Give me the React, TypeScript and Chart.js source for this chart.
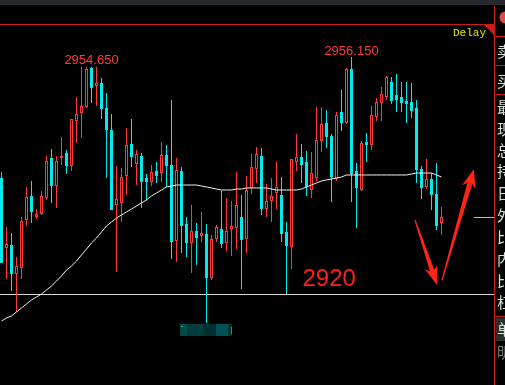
import React, { useEffect, useRef } from 'react';
import { Chart, registerables } from 'chart.js';

Chart.register(...registerables);

// ---- data ----
const opens = [
  2937.69, 2927.02, 2927.47, 2923.05, 2923.97, 2931.29, 2934.95, 2931.74, 2932.20, 2934.64,
  2940.74, 2936.47, 2940.74, 2941.50, 2939.52, 2946.38, 2947.60, 2948.52, 2954.47, 2951.72,
  2952.18, 2948.37, 2945.01, 2933.57, 2933.88, 2937.99, 2942.87, 2939.83, 2941.05, 2937.69,
  2937.08, 2938.76, 2938.45, 2941.20, 2939.67, 2928.08, 2938.76, 2930.68, 2927.78, 2929.61,
  2928.85, 2929.15, 2922.44, 2928.39, 2929.91, 2927.78, 2929.91, 2930.07, 2931.74, 2928.39,
  2936.17, 2939.06, 2941.05, 2932.96, 2934.18, 2935.40, 2935.10, 2929.46, 2927.17, 2940.13,
  2940.89, 2940.13, 2935.86, 2937.69, 2943.33, 2946.08, 2944.10, 2937.54, 2947.76, 2946.08,
  2954.31, 2938.76, 2935.86, 2943.18, 2942.72, 2946.99, 2949.13, 2950.04, 2952.33, 2950.35,
  2950.04, 2949.43, 2949.28, 2948.37, 2939.06, 2936.32, 2937.54, 2935.25, 2930.83,
];
const highs = [
  2938.61, 2930.22, 2929.30, 2925.64, 2931.74, 2936.32, 2937.23, 2932.96, 2935.71, 2941.05,
  2942.11, 2941.05, 2943.94, 2941.96, 2946.69, 2950.04, 2954.65, 2954.65, 2954.65, 2954.65,
  2952.94, 2950.65, 2947.45, 2939.52, 2939.22, 2945.32, 2946.69, 2941.96, 2941.50, 2938.30,
  2939.67, 2940.13, 2943.18, 2942.72, 2949.59, 2940.74, 2939.37, 2931.74, 2933.57, 2930.83,
  2932.51, 2930.68, 2929.00, 2930.52, 2935.71, 2934.64, 2934.18, 2938.61, 2935.10, 2937.99,
  2941.35, 2942.42, 2942.27, 2936.78, 2937.69, 2940.13, 2937.84, 2930.98, 2940.59, 2944.40,
  2942.87, 2941.81, 2941.66, 2948.52, 2948.52, 2948.06, 2944.40, 2947.76, 2951.11, 2954.47,
  2956.15, 2939.98, 2943.33, 2944.55, 2948.67, 2949.89, 2951.57, 2953.25, 2953.09, 2953.55,
  2952.33, 2952.33, 2952.18, 2949.59, 2939.52, 2940.59, 2938.45, 2939.98, 2933.27,
];
const lows = [
  2924.73, 2922.29, 2920.46, 2917.26, 2922.29, 2930.37, 2930.83, 2931.44, 2932.05, 2934.34,
  2933.88, 2933.12, 2939.67, 2938.30, 2938.76, 2943.03, 2943.79, 2948.37, 2949.13, 2948.67,
  2946.69, 2937.69, 2932.81, 2923.36, 2930.98, 2935.10, 2939.37, 2936.62, 2933.12, 2934.34,
  2936.47, 2936.93, 2937.08, 2936.32, 2925.34, 2924.88, 2926.25, 2925.64, 2923.20, 2924.42,
  2927.93, 2915.58, 2922.14, 2927.93, 2927.02, 2926.56, 2925.80, 2926.86, 2920.76, 2926.25,
  2935.25, 2936.93, 2932.05, 2931.74, 2930.98, 2932.96, 2927.93, 2920.00, 2923.81, 2938.76,
  2936.93, 2934.95, 2934.64, 2937.23, 2941.66, 2942.27, 2934.03, 2937.23, 2944.86, 2945.93,
  2934.03, 2930.07, 2935.71, 2940.13, 2941.96, 2946.38, 2946.38, 2949.59, 2948.98, 2947.76,
  2947.76, 2946.08, 2946.84, 2936.93, 2934.49, 2936.01, 2932.81, 2929.76, 2929.00,
];
const closes = [
  2924.73, 2927.63, 2923.05, 2924.27, 2931.13, 2934.79, 2932.51, 2932.20, 2934.95, 2940.28,
  2936.47, 2940.28, 2941.05, 2939.52, 2946.69, 2947.45, 2948.67, 2954.31, 2951.42, 2952.18,
  2948.21, 2945.01, 2932.81, 2934.49, 2937.84, 2942.72, 2940.89, 2941.35, 2937.08, 2937.08,
  2938.61, 2937.99, 2941.20, 2939.52, 2927.93, 2938.91, 2930.37, 2927.78, 2929.61, 2928.54,
  2929.30, 2922.44, 2928.39, 2930.22, 2927.63, 2929.61, 2930.37, 2933.57, 2928.24, 2935.86,
  2939.37, 2941.35, 2932.96, 2934.18, 2934.95, 2936.32, 2929.15, 2927.32, 2940.59, 2940.89,
  2939.67, 2936.32, 2938.45, 2943.49, 2945.93, 2943.94, 2937.84, 2947.30, 2946.08, 2954.31,
  2938.30, 2936.17, 2943.03, 2942.72, 2947.30, 2949.28, 2950.50, 2953.09, 2949.43, 2949.59,
  2949.13, 2948.98, 2947.91, 2938.91, 2936.17, 2937.54, 2935.10, 2930.37, 2931.74,
];
const movingAverage = [
  2915.88, 2916.34, 2916.65, 2917.26, 2917.87, 2918.48, 2919.09, 2919.54, 2920.00, 2920.61,
  2921.22, 2921.98, 2922.75, 2923.66, 2924.27, 2925.03, 2925.95, 2926.86, 2927.78, 2928.54,
  2929.46, 2930.37, 2930.98, 2931.59, 2932.05, 2932.51, 2932.96, 2933.42, 2933.88, 2934.34,
  2934.95, 2935.40, 2935.86, 2936.32, 2936.47, 2936.62, 2936.62, 2936.62, 2936.62, 2936.62,
  2936.47, 2936.32, 2936.17, 2936.01, 2935.86, 2935.86, 2935.86, 2936.01, 2936.01, 2936.17,
  2936.17, 2936.17, 2936.17, 2936.17, 2936.01, 2935.86, 2935.86, 2935.86, 2935.86, 2935.86,
  2936.01, 2936.32, 2936.62, 2936.93, 2937.23, 2937.39, 2937.54, 2937.69, 2937.84, 2938.15,
  2938.15, 2938.15, 2938.15, 2938.15, 2938.15, 2938.15, 2938.15, 2938.15, 2938.15, 2938.15,
  2938.15, 2938.15, 2938.30, 2938.45, 2938.45, 2938.45, 2938.45, 2938.15, 2937.84,
];
const peakLabels = [
  { index: 18, value: 2954.65, text: '2954.650' },
  { index: 70, value: 2956.15, text: '2956.150' },
];
const supportLevel = 2920;
const supportText = '2920';
const panelLabels = ['卖', '买', '最', '现', '总', '持', '日', '外', '比', '内', '比', '杠', '单', '明'];
const delayText = 'Delay';

// ---- styles ----
const RED = '#ff3a3a';
const CYAN = '#00ecec';
const LINE_RED = '#c81c1c';

function drawArrow(ctx: CanvasRenderingContext2D, x0: number, y0: number, x1: number, y1: number,
  w0: number, w1: number, L: number, H: number) {
  const dx = x1 - x0, dy = y1 - y0;
  const len = Math.hypot(dx, dy);
  const ux = dx / len, uy = dy / len, nx = -uy, ny = ux;
  const bx = x1 - ux * L, by = y1 - uy * L;
  const bbx = x1 - ux * (L + 4), bby = y1 - uy * (L + 4);
  ctx.beginPath();
  ctx.moveTo(x0 + nx * w0 / 2, y0 + ny * w0 / 2);
  ctx.lineTo(bx + nx * w1 / 2, by + ny * w1 / 2);
  ctx.lineTo(bbx + nx * H, bby + ny * H);
  ctx.lineTo(x1, y1);
  ctx.lineTo(bbx - nx * H, bby - ny * H);
  ctx.lineTo(bx - nx * w1 / 2, by - ny * w1 / 2);
  ctx.lineTo(x0 - nx * w0 / 2, y0 - ny * w0 / 2);
  ctx.closePath();
  ctx.fill();
}

const decorPlugin = {
  id: 'decor',
  beforeDraw(chart: any) {
    const ctx = chart.ctx;
    ctx.save();
    ctx.fillStyle = '#000';
    ctx.fillRect(0, 0, chart.width, chart.height);
    ctx.restore();
  },
  beforeDatasetsDraw(chart: any) {
    const { ctx, scales } = chart;
    const yy = Math.round(scales.y.getPixelForValue(supportLevel));
    ctx.save();
    ctx.fillStyle = '#d6d6d6';
    ctx.fillRect(chart.chartArea.left, yy, chart.chartArea.right - chart.chartArea.left, 1);
    ctx.restore();
  },
  afterDraw(chart: any) {
    const { ctx, scales } = chart;
    const xs = scales.x, ys = scales.y;
    const right = chart.chartArea.right;
    ctx.save();

    // top bar
    ctx.fillStyle = '#25292d';
    ctx.fillRect(0, 0, chart.width, 5);
    // red frame lines
    ctx.fillStyle = LINE_RED;
    ctx.fillRect(0, 24, right, 1);
    ctx.fillRect(right, 6, 1, chart.height - 6);
    [36, 65, 94, 316].forEach((yy) => ctx.fillRect(right + 1, yy, chart.width - right, 1));
    // corner triangle
    ctx.beginPath();
    ctx.moveTo(right - 10, 25);
    ctx.lineTo(right, 25);
    ctx.lineTo(right, 35);
    ctx.closePath();
    ctx.fill();
    // red dot
    ctx.fillStyle = '#e04a4a';
    ctx.beginPath();
    ctx.arc(505.5, 17.5, 6, 0, Math.PI * 2);
    ctx.fill();
    // grey cell
    ctx.fillStyle = '#2c2f30';
    ctx.fillRect(right + 2, 318, chart.width - right - 2, 23);

    // panel labels
    const rowY = [51, 81, 107, 129, 150, 171, 193, 215, 237, 259, 281, 302, 329, 352];
    ctx.font = '15px "Noto Sans CJK SC"';
    ctx.textBaseline = 'middle';
    ctx.textAlign = 'left';
    panelLabels.forEach((t, i) => {
      ctx.fillStyle = i === panelLabels.length - 1 ? '#7a7a7a' : '#dedede';
      ctx.fillText(t, right + 3, rowY[i]);
    });

    // Delay
    ctx.fillStyle = '#e6e600';
    ctx.font = '11px "Liberation Mono"';
    ctx.textBaseline = 'alphabetic';
    ctx.fillText(delayText, 453, 36);

    // last price marker
    const lastY = Math.round(ys.getPixelForValue(closes[closes.length - 1]));
    ctx.fillStyle = '#d8d800';
    ctx.fillRect(474, lastY, right - 474, 1);

    // peak labels
    ctx.fillStyle = '#ff3c3c';
    ctx.font = '13px "Liberation Sans"';
    ctx.textAlign = 'center';
    peakLabels.forEach((p, k) => {
      ctx.fillText(p.text, xs.getPixelForValue(p.index), ys.getPixelForValue(p.value) - (k === 0 ? 3 : 2));
    });

    // support text
    ctx.fillStyle = '#ff1e1e';
    ctx.font = '24px "Liberation Sans"';
    ctx.textAlign = 'left';
    ctx.fillText(supportText, xs.getPixelForValue(60.2), ys.getPixelForValue(supportLevel) - 8);

    // blurred label below lowest low
    const li = lows.indexOf(Math.min(...lows));
    const cx = xs.getPixelForValue(li);
    const top = Math.round(ys.getPixelForValue(lows[li])) + 1;
    const segs: [number, number, string][] = [
      [-26.5, 7, '#004a4a'], [-19.5, 17, '#003c3c'], [-2.5, 12, '#002f2f'], [9.5, 12, '#005252'], [21.5, 4, '#003434'],
    ];
    segs.forEach(([o, w, c]) => { ctx.fillStyle = c; ctx.fillRect(cx + o, top, w, 12); });
    ctx.fillStyle = '#00c0c0';
    ctx.fillRect(cx - 25.5, top + 2, 2, 1);
    ctx.fillStyle = '#00a0a0';
    ctx.fillRect(cx + 24.5, top + 3, 1, 7);

    // arrows
    ctx.fillStyle = '#ff2414';
    drawArrow(ctx, xs.getPixelForValue(82.7), ys.getPixelForValue(2931.29),
      xs.getPixelForValue(87.1), ys.getPixelForValue(2921.37), 1.2, 4.5, 15, 6.5);
    drawArrow(ctx, xs.getPixelForValue(88.1), ys.getPixelForValue(2922.09),
      xs.getPixelForValue(94.5), ys.getPixelForValue(2939.06), 1.2, 5, 15, 7);

    ctx.restore();
  },
};

export default function App() {
  const ref = useRef<HTMLCanvasElement>(null);
  useEffect(() => {
    const n = closes.length;
    const idx = Array.from({ length: n }, (_, i) => i);
    const up = idx.filter((i) => closes[i] >= opens[i]);
    const down = idx.filter((i) => closes[i] < opens[i]);
    const chart = new Chart(ref.current as HTMLCanvasElement, {
      type: 'bar',
      data: {
        datasets: [
          {
            type: 'line',
            data: movingAverage.map((v, i) => ({ x: i, y: v })),
            borderColor: '#f4f4f4',
            borderWidth: 1,
            pointRadius: 0,
            tension: 0,
            order: 0,
          } as any,
          {
            data: up.map((i) => ({ x: i, y: [opens[i], closes[i]] })),
            backgroundColor: '#000',
            borderColor: RED,
            borderWidth: 1,
            borderSkipped: false,
            barThickness: 3,
            grouped: false,
            inflateAmount: 0,
            order: 1,
          },
          {
            data: down.map((i) => ({ x: i, y: [opens[i], closes[i]] })),
            backgroundColor: CYAN,
            borderWidth: 0,
            barThickness: 3,
            grouped: false,
            inflateAmount: 0,
            order: 1,
          },
          {
            data: up.map((i) => ({ x: i, y: [lows[i], highs[i]] })),
            backgroundColor: RED,
            borderWidth: 0,
            barThickness: 1,
            grouped: false,
            inflateAmount: 0,
            order: 2,
          },
          {
            data: down.map((i) => ({ x: i, y: [lows[i], highs[i]] })),
            backgroundColor: CYAN,
            borderWidth: 0,
            barThickness: 1,
            grouped: false,
            inflateAmount: 0,
            order: 2,
          },
        ] as any,
      },
      options: {
        animation: false,
        responsive: false,
        devicePixelRatio: 1,
        layout: { padding: { left: 0, right: 11, top: 0, bottom: 0 } },
        plugins: { legend: { display: false }, tooltip: { enabled: false } },
        scales: {
          x: { type: 'linear', min: -0.3, max: 98.5, display: false, offset: false, grid: { display: false } },
          y: { min: 2906.1225, max: 2964.835, display: false, grid: { display: false } },
        },
      } as any,
      plugins: [decorPlugin],
    });
    return () => chart.destroy();
  }, []);
  return (
    <div style={{ position: 'fixed', left: 0, top: 0, width: 505, height: 385, background: '#000' }}>
      <canvas ref={ref} width={505} height={385} style={{ display: 'block' }} />
    </div>
  );
}
